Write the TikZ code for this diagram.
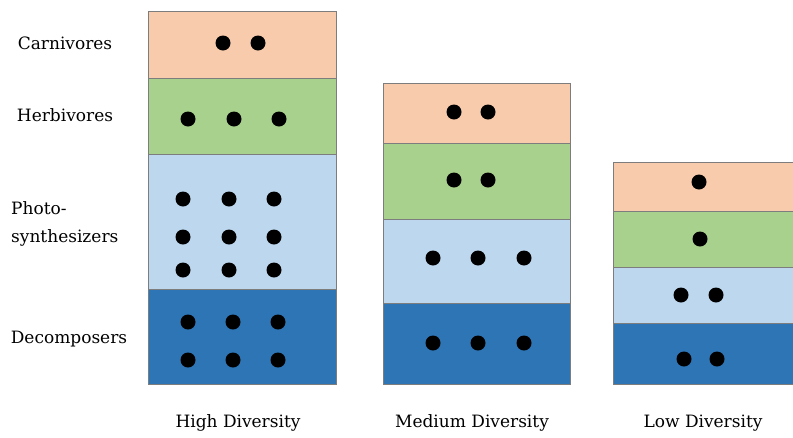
\documentclass[tikz,border=0pt]{standalone}
\usepackage{fontspec}
\setmainfont{DejaVu Serif}
\definecolor{carn}{RGB}{248,203,173}
\definecolor{herb}{RGB}{169,209,142}
\definecolor{photo}{RGB}{189,215,238}
\definecolor{decomp}{RGB}{46,117,182}
\definecolor{edge}{RGB}{125,125,125}
\begin{document}
\begin{tikzpicture}[x=1pt,y=-1pt,
  layer/.style={draw=edge,line width=1pt},
  dot/.style={circle,fill=black,inner sep=0pt,minimum size=15pt},
  rowlabel/.style={font=\fontsize{17}{28}\selectfont,inner sep=0pt},
  collabel/.style={font=\fontsize{17}{20}\selectfont,inner sep=0pt}]
\useasboundingbox[fill=white] (0,0) rectangle (793,437);

% column 1: high diversity
\filldraw[layer,fill=carn]   (148,11)  rectangle (336,78);
\filldraw[layer,fill=herb]   (148,78)  rectangle (336,154);
\filldraw[layer,fill=photo]  (148,154) rectangle (336,289);
\filldraw[layer,fill=decomp] (148,289) rectangle (336,384);
% column 2: medium diversity
\filldraw[layer,fill=carn]   (383,83)  rectangle (570,143);
\filldraw[layer,fill=herb]   (383,143) rectangle (570,219);
\filldraw[layer,fill=photo]  (383,219) rectangle (570,303);
\filldraw[layer,fill=decomp] (383,303) rectangle (570,384);
% column 3: low diversity (runs off the right edge)
\filldraw[layer,fill=carn]   (613,162) rectangle (800,211);
\filldraw[layer,fill=herb]   (613,211) rectangle (800,267);
\filldraw[layer,fill=photo]  (613,267) rectangle (800,323);
\filldraw[layer,fill=decomp] (613,323) rectangle (800,384);

% species dots
\foreach \x/\y [count=\i] in {223/43,258/43,
  188/119,234/119,279/119,
  183/199,229/199,274/199,183/237,229/237,274/237,183/270,229/270,274/270,
  188/322,233/322,278/322,188/360,233/360,278/360,
  454/112,488/112,454/180,488/180,
  433/258,478/258,524/258,433/343,478/343,524/343,
  699/182,700/239,681/295,716/295,684/359,717/359}
  \node[dot] (d\i) at (\x,\y) {};

% trophic level labels
\node[rowlabel] (lcarn) at (65,43) {Carnivores};
\node[rowlabel] (lherb) at (65,115) {Herbivores};
\node[rowlabel,anchor=west,align=left] (lphoto) at (11,224) {Photo-\\synthesizers};
\node[rowlabel] (ldecomp) at (69,339) {Decomposers};

% column captions
\node[collabel] (chigh) at (238,423) {High Diversity};
\node[collabel] (cmed)  at (472,423) {Medium Diversity};
\node[collabel] (clow)  at (703,423) {Low Diversity};
\end{tikzpicture}
\end{document}
